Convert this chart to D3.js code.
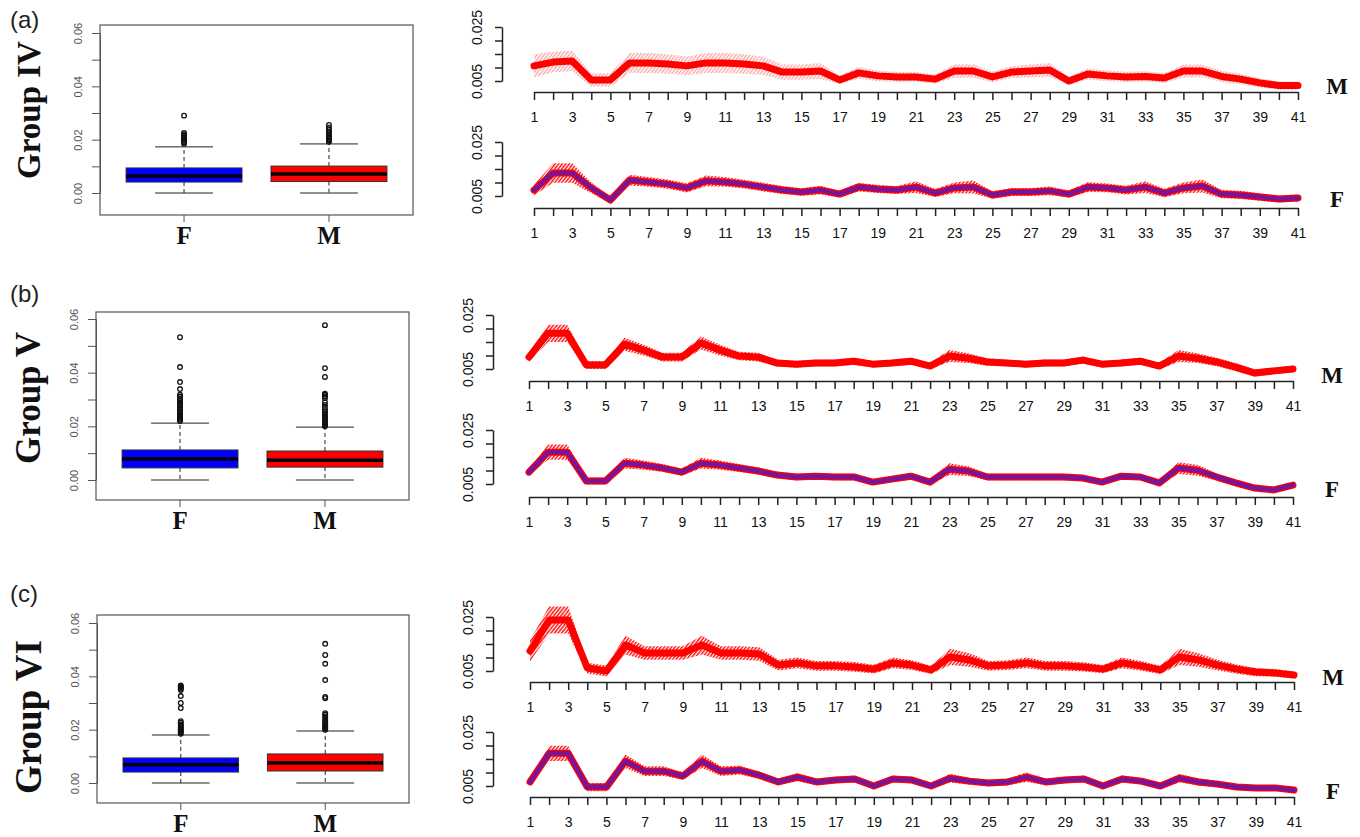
<!DOCTYPE html>
<html>
<head>
<meta charset="utf-8">
<script src="https://cdn.jsdelivr.net/npm/d3@7"></script>
<style>
body { margin: 0; background: #fff; }
text { font-family: "Liberation Sans", Arial, sans-serif; }
</style>
</head>
<body>
<svg id="fig" width="1360" height="837"></svg>
<script>
// categories on the right-hand charts
var positions = d3.range(1, 42);
var sexes = ["F", "M"];
var boxTicks = [0, 0.01, 0.02, 0.03, 0.04, 0.05, 0.06];
var boxLabels = [0, 0.02, 0.04, 0.06];
var lineTicks = [0.005, 0.01, 0.015, 0.02, 0.025];
var lineLabels = [0.005, 0.025];

// boxplot stats: lower whisker, Q1, median, Q3, upper whisker
var ivBoxF = [0, 0.0041, 0.0064, 0.0094, 0.0173];
var ivBoxM = [0, 0.0043, 0.0071, 0.0101, 0.0184];
var vBoxF = [0, 0.0045, 0.0078, 0.0112, 0.0212];
var vBoxM = [0, 0.0048, 0.0074, 0.0108, 0.0197];
var viBoxF = [0, 0.0041, 0.0068, 0.0094, 0.0180];
var viBoxM = [0, 0.0045, 0.0075, 0.0109, 0.0195];

// outliers
var ivOutF = [0.0185, 0.0190, 0.0195, 0.0200, 0.0205, 0.0210, 0.0215, 0.0220, 0.0225, 0.0290];
var ivOutM = [0.0192, 0.0197, 0.0202, 0.0207, 0.0212, 0.0218, 0.0224, 0.0230, 0.0237, 0.0245, 0.0255];
var vOutF = [0.0220, 0.0224, 0.0228, 0.0232, 0.0236, 0.0240, 0.0245, 0.0250, 0.0255, 0.0260, 0.0266, 0.0272,
             0.0278, 0.0284, 0.0290, 0.0297, 0.0304, 0.0311, 0.0318, 0.0339, 0.0365, 0.0421, 0.0532];
var vOutM = [0.0200, 0.0204, 0.0208, 0.0212, 0.0216, 0.0220, 0.0225, 0.0230, 0.0236, 0.0242, 0.0248, 0.0254,
             0.0260, 0.0270, 0.0280, 0.0290, 0.0305, 0.0312, 0.0318, 0.0322, 0.0384, 0.0417, 0.0577];
var viOutF = [0.0185, 0.0189, 0.0193, 0.0197, 0.0201, 0.0205, 0.0210, 0.0215, 0.0220, 0.0226, 0.0232,
              0.0281, 0.0300, 0.0326, 0.0349, 0.0354, 0.0358, 0.0362, 0.0366];
var viOutM = [0.0200, 0.0204, 0.0208, 0.0212, 0.0216, 0.0220, 0.0225, 0.0230, 0.0236, 0.0242, 0.0250,
              0.0256, 0.0262, 0.0318, 0.0323, 0.0386, 0.0447, 0.0480, 0.0522];

// mean profiles and their spread, positions 1..41
var ivM = [0.0106, 0.0120, 0.0124, 0.0054, 0.0054, 0.0117, 0.0117, 0.0113, 0.0106, 0.0117,
           0.0117, 0.0113, 0.0106, 0.0083, 0.0083, 0.0087, 0.0054, 0.0080, 0.0069, 0.0065,
           0.0065, 0.0057, 0.0087, 0.0087, 0.0065, 0.0083, 0.0087, 0.0091, 0.0050, 0.0076,
           0.0069, 0.0065, 0.0067, 0.0061, 0.0087, 0.0087, 0.0067, 0.0057, 0.0043, 0.0033, 0.0033];
var ivMsd = [0.0043, 0.0038, 0.0038, 0.0025, 0.0025, 0.0037, 0.0037, 0.0036, 0.0035, 0.0037,
             0.0037, 0.0036, 0.0034, 0.0028, 0.0028, 0.0030, 0.0015, 0.0022, 0.0020, 0.0018,
             0.0018, 0.0017, 0.0025, 0.0025, 0.0020, 0.0022, 0.0024, 0.0026, 0.0015, 0.0020,
             0.0020, 0.0019, 0.0019, 0.0018, 0.0024, 0.0024, 0.0021, 0.0019, 0.0017, 0.0015, 0.0015];
var ivF = [0.0072, 0.0135, 0.0135, 0.0080, 0.0035, 0.0109, 0.0102, 0.0094, 0.0080, 0.0106,
           0.0102, 0.0094, 0.0083, 0.0072, 0.0065, 0.0072, 0.0057, 0.0083, 0.0076, 0.0072,
           0.0083, 0.0061, 0.0080, 0.0083, 0.0054, 0.0065, 0.0065, 0.0069, 0.0057, 0.0083,
           0.0080, 0.0072, 0.0083, 0.0061, 0.0080, 0.0087, 0.0057, 0.0054, 0.0046, 0.0039, 0.0043];
var ivFsd = [0.0020, 0.0036, 0.0036, 0.0020, 0.0012, 0.0020, 0.0018, 0.0017, 0.0017, 0.0020,
             0.0018, 0.0016, 0.0016, 0.0015, 0.0014, 0.0016, 0.0013, 0.0016, 0.0015, 0.0015,
             0.0022, 0.0015, 0.0020, 0.0024, 0.0014, 0.0015, 0.0015, 0.0016, 0.0013, 0.0018,
             0.0016, 0.0016, 0.0022, 0.0016, 0.0020, 0.0024, 0.0015, 0.0015, 0.0014, 0.0013, 0.0013];

var vM = [0.0094, 0.0182, 0.0182, 0.0065, 0.0065, 0.0142, 0.0120, 0.0094, 0.0094, 0.0146,
          0.0120, 0.0098, 0.0094, 0.0072, 0.0068, 0.0072, 0.0072, 0.0079, 0.0068, 0.0072,
          0.0079, 0.0061, 0.0098, 0.0090, 0.0076, 0.0072, 0.0068, 0.0072, 0.0072, 0.0083,
          0.0068, 0.0072, 0.0079, 0.0061, 0.0098, 0.0090, 0.0076, 0.0057, 0.0035, 0.0043, 0.0050];
var vMsd = [0.0018, 0.0032, 0.0032, 0.0015, 0.0015, 0.0024, 0.0020, 0.0016, 0.0016, 0.0024,
            0.0020, 0.0016, 0.0016, 0.0013, 0.0012, 0.0012, 0.0012, 0.0013, 0.0012, 0.0012,
            0.0013, 0.0012, 0.0022, 0.0018, 0.0014, 0.0012, 0.0012, 0.0013, 0.0012, 0.0013,
            0.0012, 0.0012, 0.0013, 0.0012, 0.0022, 0.0018, 0.0016, 0.0015, 0.0013, 0.0012, 0.0012];
var vF = [0.0094, 0.0168, 0.0168, 0.0061, 0.0061, 0.0127, 0.0120, 0.0109, 0.0094, 0.0127,
          0.0120, 0.0109, 0.0098, 0.0083, 0.0076, 0.0079, 0.0076, 0.0076, 0.0057, 0.0068,
          0.0079, 0.0057, 0.0105, 0.0098, 0.0076, 0.0076, 0.0076, 0.0076, 0.0076, 0.0072,
          0.0057, 0.0079, 0.0076, 0.0054, 0.0109, 0.0101, 0.0076, 0.0054, 0.0035, 0.0028, 0.0046];
var vFsd = [0.0012, 0.0028, 0.0028, 0.0013, 0.0013, 0.0020, 0.0017, 0.0015, 0.0013, 0.0020,
            0.0017, 0.0015, 0.0013, 0.0012, 0.0012, 0.0012, 0.0012, 0.0012, 0.0010, 0.0010,
            0.0012, 0.0010, 0.0022, 0.0018, 0.0012, 0.0012, 0.0012, 0.0012, 0.0012, 0.0010,
            0.0010, 0.0012, 0.0010, 0.0010, 0.0022, 0.0020, 0.0014, 0.0012, 0.0010, 0.0009, 0.0009];

var viM = [0.0124, 0.0239, 0.0239, 0.0061, 0.0050, 0.0146, 0.0117, 0.0117, 0.0117, 0.0146,
           0.0117, 0.0117, 0.0113, 0.0072, 0.0080, 0.0069, 0.0069, 0.0065, 0.0057, 0.0080,
           0.0072, 0.0054, 0.0102, 0.0091, 0.0069, 0.0072, 0.0080, 0.0069, 0.0069, 0.0065,
           0.0057, 0.0080, 0.0069, 0.0054, 0.0102, 0.0091, 0.0072, 0.0057, 0.0046, 0.0043, 0.0035];
var viMsd = [0.0040, 0.0050, 0.0050, 0.0020, 0.0020, 0.0035, 0.0025, 0.0025, 0.0025, 0.0035,
             0.0025, 0.0025, 0.0025, 0.0020, 0.0020, 0.0018, 0.0018, 0.0018, 0.0016, 0.0020,
             0.0018, 0.0015, 0.0030, 0.0025, 0.0018, 0.0018, 0.0020, 0.0018, 0.0018, 0.0017,
             0.0015, 0.0020, 0.0018, 0.0015, 0.0030, 0.0025, 0.0020, 0.0017, 0.0015, 0.0014, 0.0013];
var viF = [0.0065, 0.0171, 0.0171, 0.0046, 0.0046, 0.0142, 0.0105, 0.0105, 0.0087, 0.0142,
           0.0105, 0.0109, 0.0090, 0.0065, 0.0083, 0.0065, 0.0072, 0.0076, 0.0050, 0.0076,
           0.0072, 0.0050, 0.0079, 0.0068, 0.0061, 0.0065, 0.0083, 0.0065, 0.0072, 0.0076,
           0.0050, 0.0076, 0.0068, 0.0050, 0.0079, 0.0065, 0.0057, 0.0046, 0.0043, 0.0043, 0.0035];
var viFsd = [0.0010, 0.0028, 0.0028, 0.0015, 0.0015, 0.0025, 0.0018, 0.0018, 0.0014, 0.0025,
             0.0018, 0.0016, 0.0014, 0.0012, 0.0015, 0.0012, 0.0012, 0.0012, 0.0010, 0.0012,
             0.0012, 0.0010, 0.0016, 0.0013, 0.0012, 0.0012, 0.0018, 0.0012, 0.0012, 0.0012,
             0.0010, 0.0013, 0.0012, 0.0010, 0.0016, 0.0013, 0.0012, 0.0011, 0.0010, 0.0010, 0.0009];

var svg = d3.select("#fig");
var serif = "'Liberation Serif', 'Times New Roman', serif";

// hatch patterns for the spread bands
var defs = svg.append("defs");
function hatch(id, color, opacity, w) {
    defs.append("pattern")
        .attr("id", id)
        .attr("patternUnits", "userSpaceOnUse")
        .attr("width", 2.8).attr("height", 10)
        .attr("patternTransform", "rotate(38)")
        .append("line")
        .attr("x1", 0.7).attr("y1", 0).attr("x2", 0.7).attr("y2", 10)
        .attr("stroke", color).attr("stroke-width", w).attr("stroke-opacity", opacity);
}
hatch("hatchLight", "#f03a3a", 0.6, 1.0);
hatch("hatchDense", "#ff0a0a", 1, 1.5);

// layout of the three rows
var rows = [
    { letter: "(a)", letterY: 28, group: "Group IV", groupY: 110, groupSize: 33,
      box: { left: 100, right: 413, top: 25, bottom: 215, y0: 193, y6: 33 },
      boxF: ivBoxF, boxM: ivBoxM, outF: ivOutF, outM: ivOutM,
      labelX: 1337,
      charts: [
        { mean: ivM, sd: ivMsd, sex: "M", x1: 534, x41: 1298, axisX: 502, y005: 81, axisY: 92, labelY: 86, fill: "hatchLight" },
        { mean: ivF, sd: ivFsd, sex: "F", x1: 534, x41: 1298, axisX: 502, y005: 196, axisY: 208, labelY: 199, fill: "hatchDense" }
      ] },
    { letter: "(b)", letterY: 302, group: "Group V", groupY: 398, groupSize: 35,
      box: { left: 96, right: 409, top: 312, bottom: 500, y0: 480, y6: 319 },
      boxF: vBoxF, boxM: vBoxM, outF: vOutF, outM: vOutM,
      labelX: 1332,
      charts: [
        { mean: vM, sd: vMsd, sex: "M", x1: 529, x41: 1293, axisX: 493, y005: 369, axisY: 381, labelY: 375, fill: "hatchDense" },
        { mean: vF, sd: vFsd, sex: "F", x1: 529, x41: 1293, axisX: 493, y005: 484, axisY: 497, labelY: 489, fill: "hatchDense" }
      ] },
    { letter: "(c)", letterY: 602, group: "Group VI", groupY: 717, groupSize: 37,
      box: { left: 97, right: 409, top: 615, bottom: 803, y0: 783, y6: 623 },
      boxF: viBoxF, boxM: viBoxM, outF: viOutF, outM: viOutM,
      labelX: 1333,
      charts: [
        { mean: viM, sd: viMsd, sex: "M", x1: 530, x41: 1294, axisX: 493, y005: 671, axisY: 682, labelY: 677, fill: "hatchDense" },
        { mean: viF, sd: viFsd, sex: "F", x1: 530, x41: 1294, axisX: 493, y005: 786, axisY: 797, labelY: 791, fill: "hatchDense" }
      ] }
];

function styleAxis(g, color, width) {
    g.select(".domain").attr("stroke", color).attr("stroke-width", width);
    g.selectAll(".tick line").attr("stroke", color).attr("stroke-width", width);
}

function drawBoxplot(row) {
    var b = row.box;
    var x = d3.scaleLinear().domain([0.42, 2.58]).range([b.left, b.right]);
    var y = d3.scaleLinear().domain([0, 0.06]).range([b.y0, b.y6]);
    var g = svg.append("g");

    // y axis
    var ay = g.append("g")
        .attr("transform", "translate(" + b.left + ",0)")
        .call(d3.axisLeft(y).tickValues(boxTicks).tickSize(8).tickSizeOuter(0)
            .tickFormat(function (d) { return boxLabels.indexOf(d) >= 0 ? d3.format(".2f")(d) : ""; }));
    styleAxis(ay, "#555", 1);
    ay.selectAll(".tick text")
        .attr("x", 0).attr("dy", "0.35em")
        .attr("transform", "translate(-22,0) rotate(-90)")
        .attr("text-anchor", "middle")
        .attr("font-size", 11).attr("fill", "#555");

    var stats = [row.boxF, row.boxM];
    var outs = [row.outF, row.outM];
    var colors = ["#0000ff", "#ff0000"];

    stats.forEach(function (s, i) {
        var c = i + 1;
        // whiskers
        g.append("line").attr("x1", x(c)).attr("x2", x(c)).attr("y1", y(s[3])).attr("y2", y(s[4]))
            .attr("stroke", "#222").attr("stroke-dasharray", "4,3");
        g.append("line").attr("x1", x(c)).attr("x2", x(c)).attr("y1", y(s[1])).attr("y2", y(s[0]))
            .attr("stroke", "#222").attr("stroke-dasharray", "4,3");
        [s[0], s[4]].forEach(function (v) {
            g.append("line").attr("x1", x(c - 0.2)).attr("x2", x(c + 0.2)).attr("y1", y(v)).attr("y2", y(v))
                .attr("stroke", "#222").attr("stroke-width", 1);
        });
        // box and median
        g.append("rect")
            .attr("x", x(c - 0.4)).attr("width", x(c + 0.4) - x(c - 0.4))
            .attr("y", y(s[3])).attr("height", y(s[1]) - y(s[3]))
            .attr("fill", colors[i]).attr("stroke", "#333").attr("stroke-width", 1);
        g.append("line").attr("x1", x(c - 0.4)).attr("x2", x(c + 0.4)).attr("y1", y(s[2])).attr("y2", y(s[2]))
            .attr("stroke", "#000").attr("stroke-width", 3.5);
        // outliers
        g.selectAll(null).data(outs[i]).enter().append("circle")
            .attr("cx", x(c)).attr("cy", function (d) { return y(d); }).attr("r", 2.3)
            .attr("fill", "none").attr("stroke", "#111").attr("stroke-width", 1.3);
        // x tick and label
        g.append("line").attr("x1", x(c)).attr("x2", x(c)).attr("y1", b.bottom).attr("y2", b.bottom + 7)
            .attr("stroke", "#555");
        g.append("text").attr("x", x(c)).attr("y", b.bottom + 29)
            .attr("text-anchor", "middle").style("font-family", serif).attr("font-weight", "bold")
            .attr("font-size", 25).attr("fill", "#111").text(sexes[i]);
    });

    // frame
    g.append("rect").attr("x", b.left).attr("y", b.top)
        .attr("width", b.right - b.left).attr("height", b.bottom - b.top)
        .attr("fill", "none").attr("stroke", "#555").attr("stroke-width", 1.2);
}

function drawProfile(row, ch) {
    var x = d3.scaleLinear().domain([1, 41]).range([ch.x1, ch.x41]);
    var y = d3.scaleLinear().domain([0.005, 0.025]).range([ch.y005, ch.y005 - 54]);
    var g = svg.append("g");

    var band = d3.area()
        .x(function (d, i) { return x(positions[i]); })
        .y0(function (d, i) { return y(d - ch.sd[i]); })
        .y1(function (d, i) { return y(d + ch.sd[i]); });
    g.append("path").datum(ch.mean).attr("d", band).attr("fill", "url(#" + ch.fill + ")");

    var line = d3.line().x(function (d, i) { return x(positions[i]); }).y(function (d) { return y(d); });
    g.append("path").datum(ch.mean).attr("d", line)
        .attr("fill", "none").attr("stroke", "#ff0000").attr("stroke-width", 7)
        .attr("stroke-linejoin", "round").attr("stroke-linecap", "round");
    if (ch.sex === "F") {
        g.append("path").datum(ch.mean).attr("d", line)
            .attr("fill", "none").attr("stroke", "#2020ff").attr("stroke-width", 4.5)
            .attr("stroke-opacity", 0.6).attr("stroke-linejoin", "round").attr("stroke-linecap", "round");
    }

    // x axis
    var ax = g.append("g")
        .attr("transform", "translate(0," + ch.axisY + ")")
        .call(d3.axisBottom(x).tickValues(positions).tickSize(8).tickSizeOuter(0).tickPadding(12)
            .tickFormat(function (d) { return d % 2 ? d : ""; }));
    styleAxis(ax, "#222", 1.5);
    ax.selectAll(".tick text").attr("font-size", 14).attr("fill", "#111");

    // y axis
    var ay = g.append("g")
        .attr("transform", "translate(" + ch.axisX + ",0)")
        .call(d3.axisLeft(y).tickValues(lineTicks).tickSize(7).tickSizeOuter(0)
            .tickFormat(function (d) { return lineLabels.indexOf(d) >= 0 ? d3.format(".3f")(d) : ""; }));
    styleAxis(ay, "#222", 1.5);
    ay.selectAll(".tick text")
        .attr("x", 0).attr("dy", "0.35em")
        .attr("transform", "translate(-25,0) rotate(-90)")
        .attr("text-anchor", "middle")
        .attr("font-size", 14).attr("fill", "#111");

    // sex label on the right
    svg.append("text").attr("x", row.labelX).attr("y", ch.labelY + 8)
        .attr("text-anchor", "middle").style("font-family", serif).attr("font-weight", "bold")
        .attr("font-size", 23).attr("fill", "#111").text(ch.sex);
}

rows.forEach(function (row) {
    svg.append("text").attr("x", 10).attr("y", row.letterY)
        .attr("font-size", 24).attr("fill", "#222").text(row.letter);
    svg.append("text")
        .attr("transform", "translate(28," + row.groupY + ") rotate(-90)")
        .attr("dy", "0.35em").attr("text-anchor", "middle")
        .style("font-family", serif).attr("font-weight", "bold")
        .attr("font-size", row.groupSize).attr("fill", "#111").text(row.group);
    drawBoxplot(row);
    row.charts.forEach(function (ch) { drawProfile(row, ch); });
});
</script>
</body>
</html>
